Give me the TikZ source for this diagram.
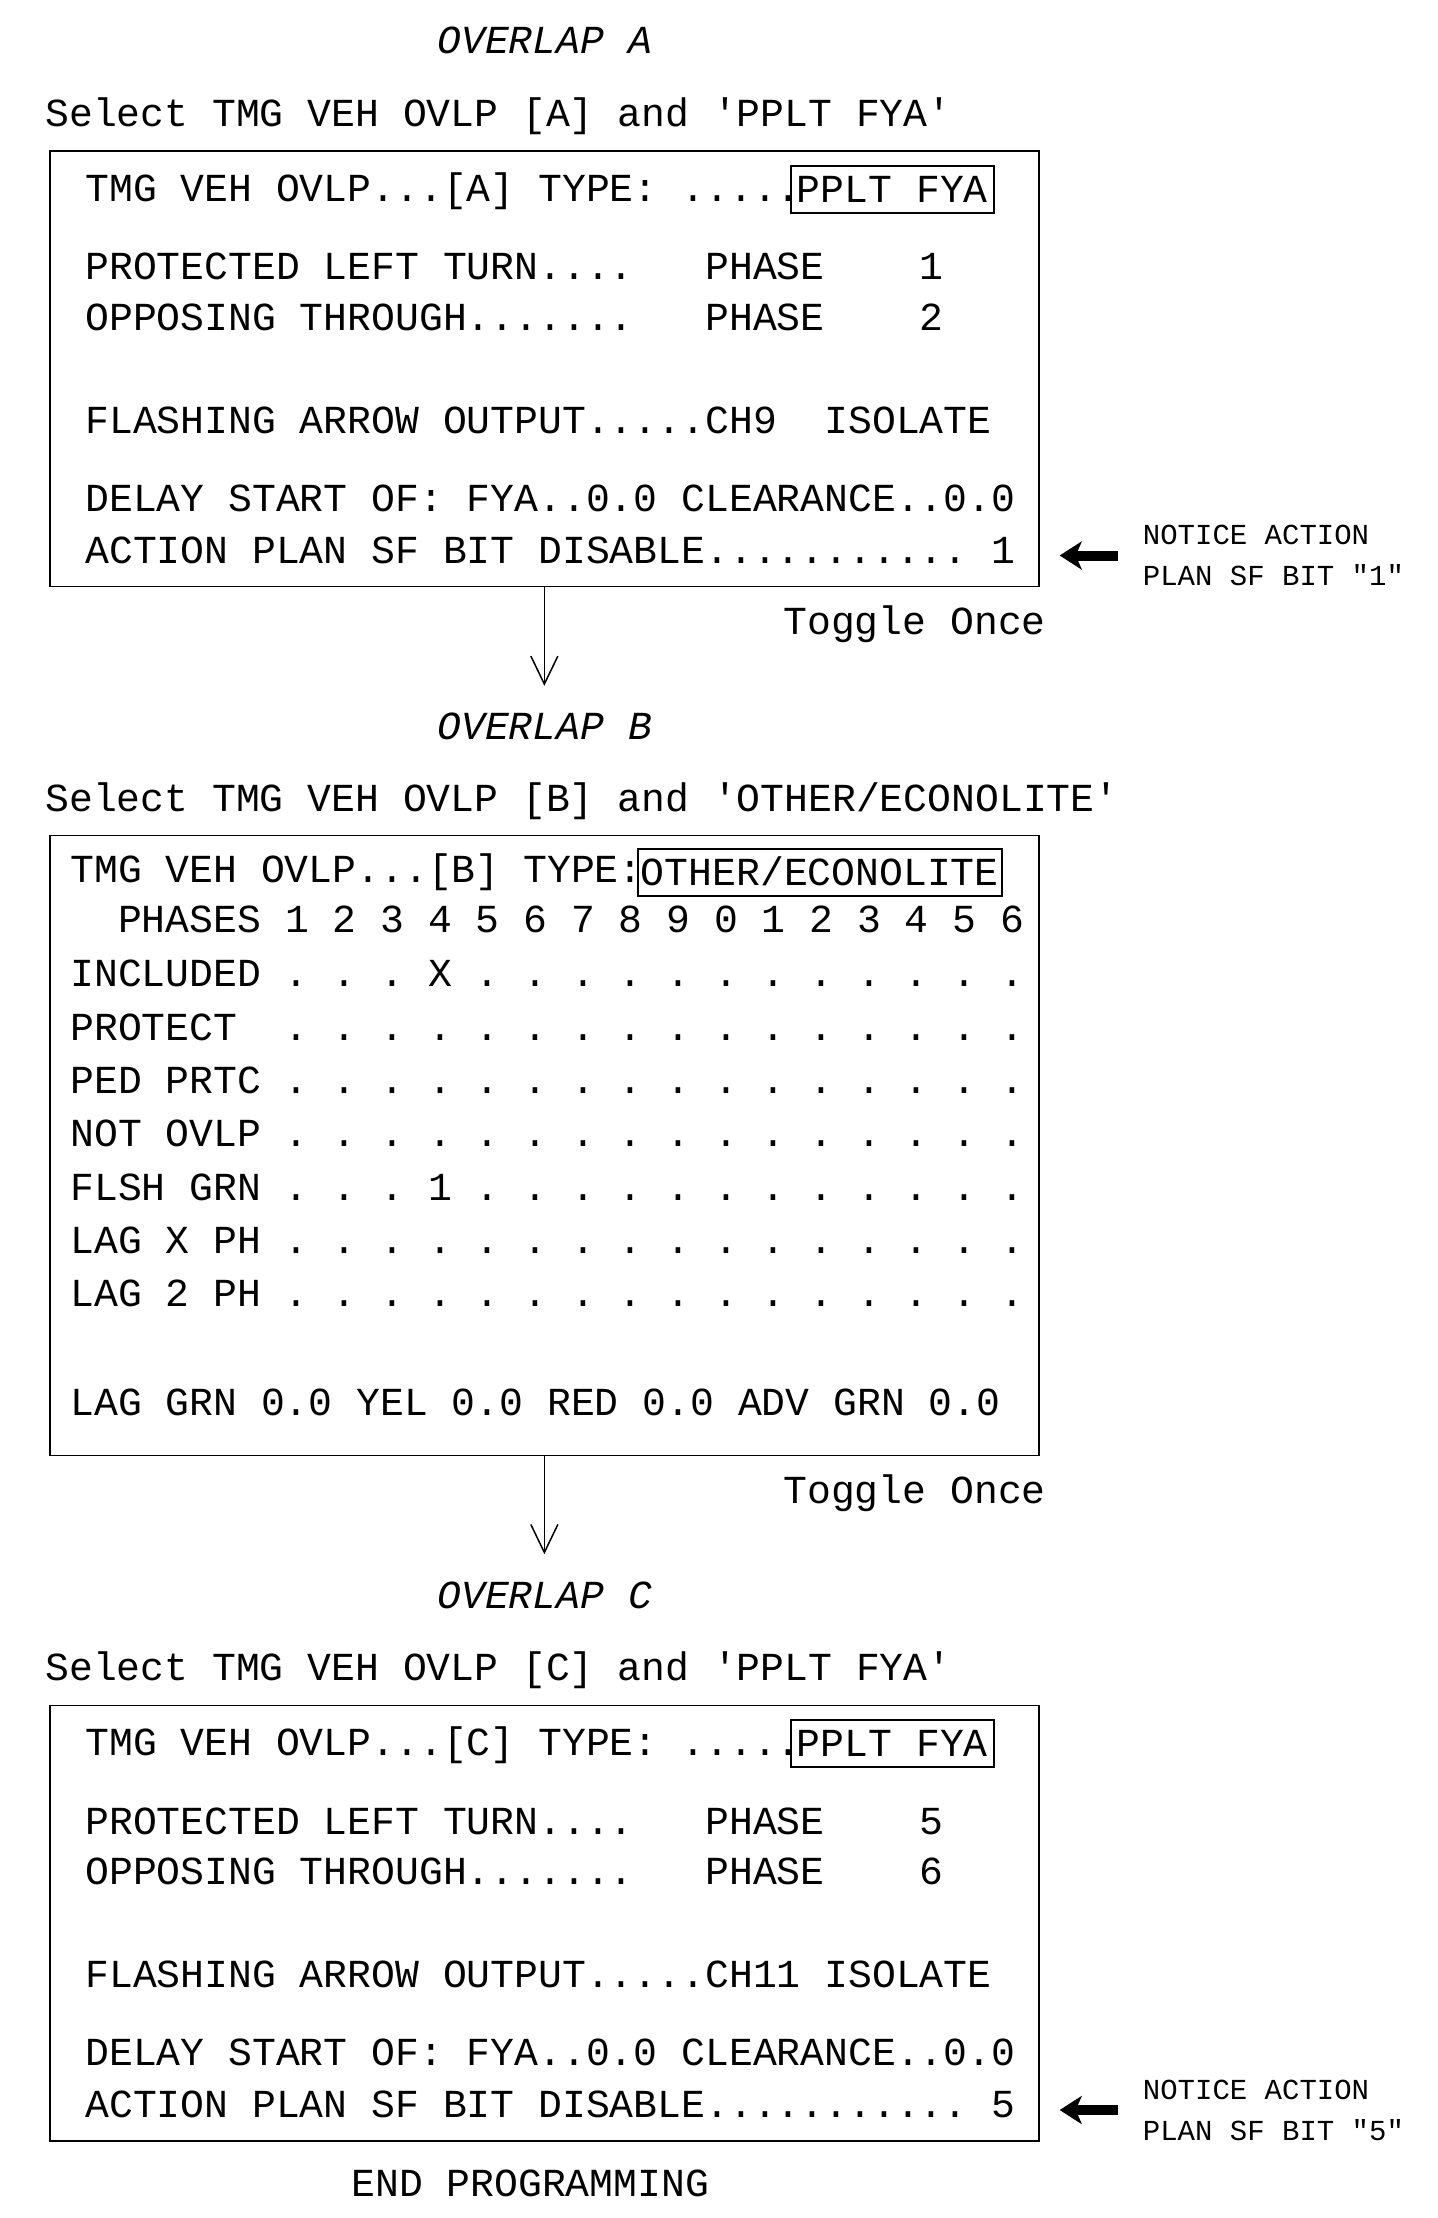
\documentclass[tikz,border=0pt]{standalone}
\usepackage{fontspec}
\newfontfamily\cadfont{Liberation Mono}
\usepackage{tikz}
\usetikzlibrary{arrows.meta, calc, positioning}
\tikzset{
    cadText/.style={font=\cadfont\fontsize{19.87pt}{24pt}\selectfont\frenchspacing, inner sep=0pt, anchor=base west},
    cadTitle/.style={cadText, font=\cadfont\itshape\fontsize{19.87pt}{24pt}\selectfont},
    panel/.style={draw, rectangle, line width=0.85pt, inner sep=0pt, anchor=north west},
    typeBox/.style={draw, rectangle, line width=0.85pt, inner sep=0pt, anchor=west, minimum height=23.5pt, text height=13.1pt, text depth=0pt, font=\cadfont\fontsize{19.87pt}{24pt}\selectfont},
    noteText/.style={font=\cadfont\fontsize{14.5pt}{20.5pt}\selectfont, inner sep=0pt, anchor=west, align=left},
    toggleArrow/.style={-{Straight Barb[length=14pt, width=13.5pt]}, line width=0.75pt},
    noteArrow/.style={-{Stealth[length=11pt, width=14pt, inset=3pt]}, line width=5pt, shorten <=12.5pt, shorten >=10pt},
}
% one PPLT FYA overlap panel: letter, top of frame, phases, channel, SF bit
\newcommand{\drawFyaPanel}[6]{
    \coordinate (off) at (0, #2);
    \node[cadTitle] (title#1) at ($(off)+(437, -96.5)$) {OVERLAP #1};
    \node[cadText] (select#1) at ($(off)+(45, -24)$) {Select TMG VEH OVLP [#1] and 'PPLT FYA'};
    \node[panel, minimum width=494.5pt, minimum height=217.75pt] (panel#1) at ($(off)+(49, 0)$) {};
    % panel lines
    \node[cadText] (type#1) at ($(off)+(85, 51.3)$) {TMG VEH OVLP...[#1] TYPE: .....};
    \node[typeBox, minimum width=101.5pt] (typebox#1) at ($(off)+(790, 39.2)$) {PPLT FYA};
    \node[cadText] (left#1) at ($(off)+(85, 129.5)$) {PROTECTED LEFT TURN....~~~PHASE~~~~#3};
    \node[cadText] (opp#1) at ($(off)+(85, 180.3)$) {OPPOSING THROUGH.......~~~PHASE~~~~#4};
    \node[cadText] (flash#1) at ($(off)+(85, 283)$) {FLASHING ARROW OUTPUT.....#5ISOLATE};
    \node[cadText] (delay#1) at ($(off)+(85, 361)$) {DELAY START OF: FYA..0.0 CLEARANCE..0.0};
    \node[cadText] (action#1) at ($(off)+(85, 413.4)$) {ACTION PLAN SF BIT DISABLE........... #6};
    % note beside the panel
    \node[noteText] (note#1) at ($(off)+(1142.5, 405.5)$) {NOTICE ACTION\\PLAN SF BIT "#6"};
    \draw[noteArrow] (note#1.west) -- (note#1.west -| panel#1.east);
}

\begin{document}
\begin{tikzpicture}[x=0.5pt, y=-0.5pt]
    \useasboundingbox (0, 0) rectangle (1437, 2218);

    % overlap A
    \drawFyaPanel{A}{150}{1}{2}{CH9~~}{1}

    \coordinate (tipA) at ($(panelA.south)+(0, 98.6)$);
    \draw[toggleArrow] (panelA.south) -- (tipA);
    \node[cadText] (toggleA) at (783, 634) {Toggle Once};

    % overlap B
    \node[cadTitle] (titleB) at (437, 739.6) {OVERLAP B};
    \node[cadText] (selectB) at (45, 811) {Select TMG VEH OVLP [B] and 'OTHER/ECONOLITE'};
    \node[panel, minimum width=494.5pt, minimum height=310pt] (panelB) at (49, 834.5) {};
    \node[cadText] (typeB) at (70, 882.5) {TMG VEH OVLP...[B] TYPE:};
    \node[typeBox, minimum width=182pt] (typeboxB) at (637, 872.7) {OTHER/ECONOLITE};
    \node[cadText] (phasesB) at (70, 932.5) {~~PHASES 1 2 3 4 5 6 7 8 9 0 1 2 3 4 5 6};
    \node[cadText] (includedB) at (70, 986.8) {INCLUDED . . . X . . . . . . . . . . . .};
    \node[cadText] (protectB) at (70, 1040) {PROTECT~~. . . . . . . . . . . . . . . .};
    \node[cadText] (pedB) at (70, 1093.4) {PED PRTC . . . . . . . . . . . . . . . .};
    \node[cadText] (notovlpB) at (70, 1146.7) {NOT OVLP . . . . . . . . . . . . . . . .};
    \node[cadText] (flshB) at (70, 1200) {FLSH GRN . . . 1 . . . . . . . . . . . .};
    \node[cadText] (lagxB) at (70, 1253.3) {LAG X PH . . . . . . . . . . . . . . . .};
    \node[cadText] (lagtwoB) at (70, 1306.6) {LAG 2 PH . . . . . . . . . . . . . . . .};
    \node[cadText] (lagtimesB) at (70, 1415) {LAG GRN 0.0 YEL 0.0 RED 0.0 ADV GRN 0.0};

    \coordinate (tipB) at ($(panelB.south)+(0, 98)$);
    \draw[toggleArrow] (panelB.south) -- (tipB);
    \node[cadText] (toggleB) at (783, 1503) {Toggle Once};

    % overlap C
    \drawFyaPanel{C}{1704.5}{5}{6}{CH11~}{5}

    \node[cadText] (endprog) at (351, 2196) {END PROGRAMMING};

\end{tikzpicture}
\end{document}
